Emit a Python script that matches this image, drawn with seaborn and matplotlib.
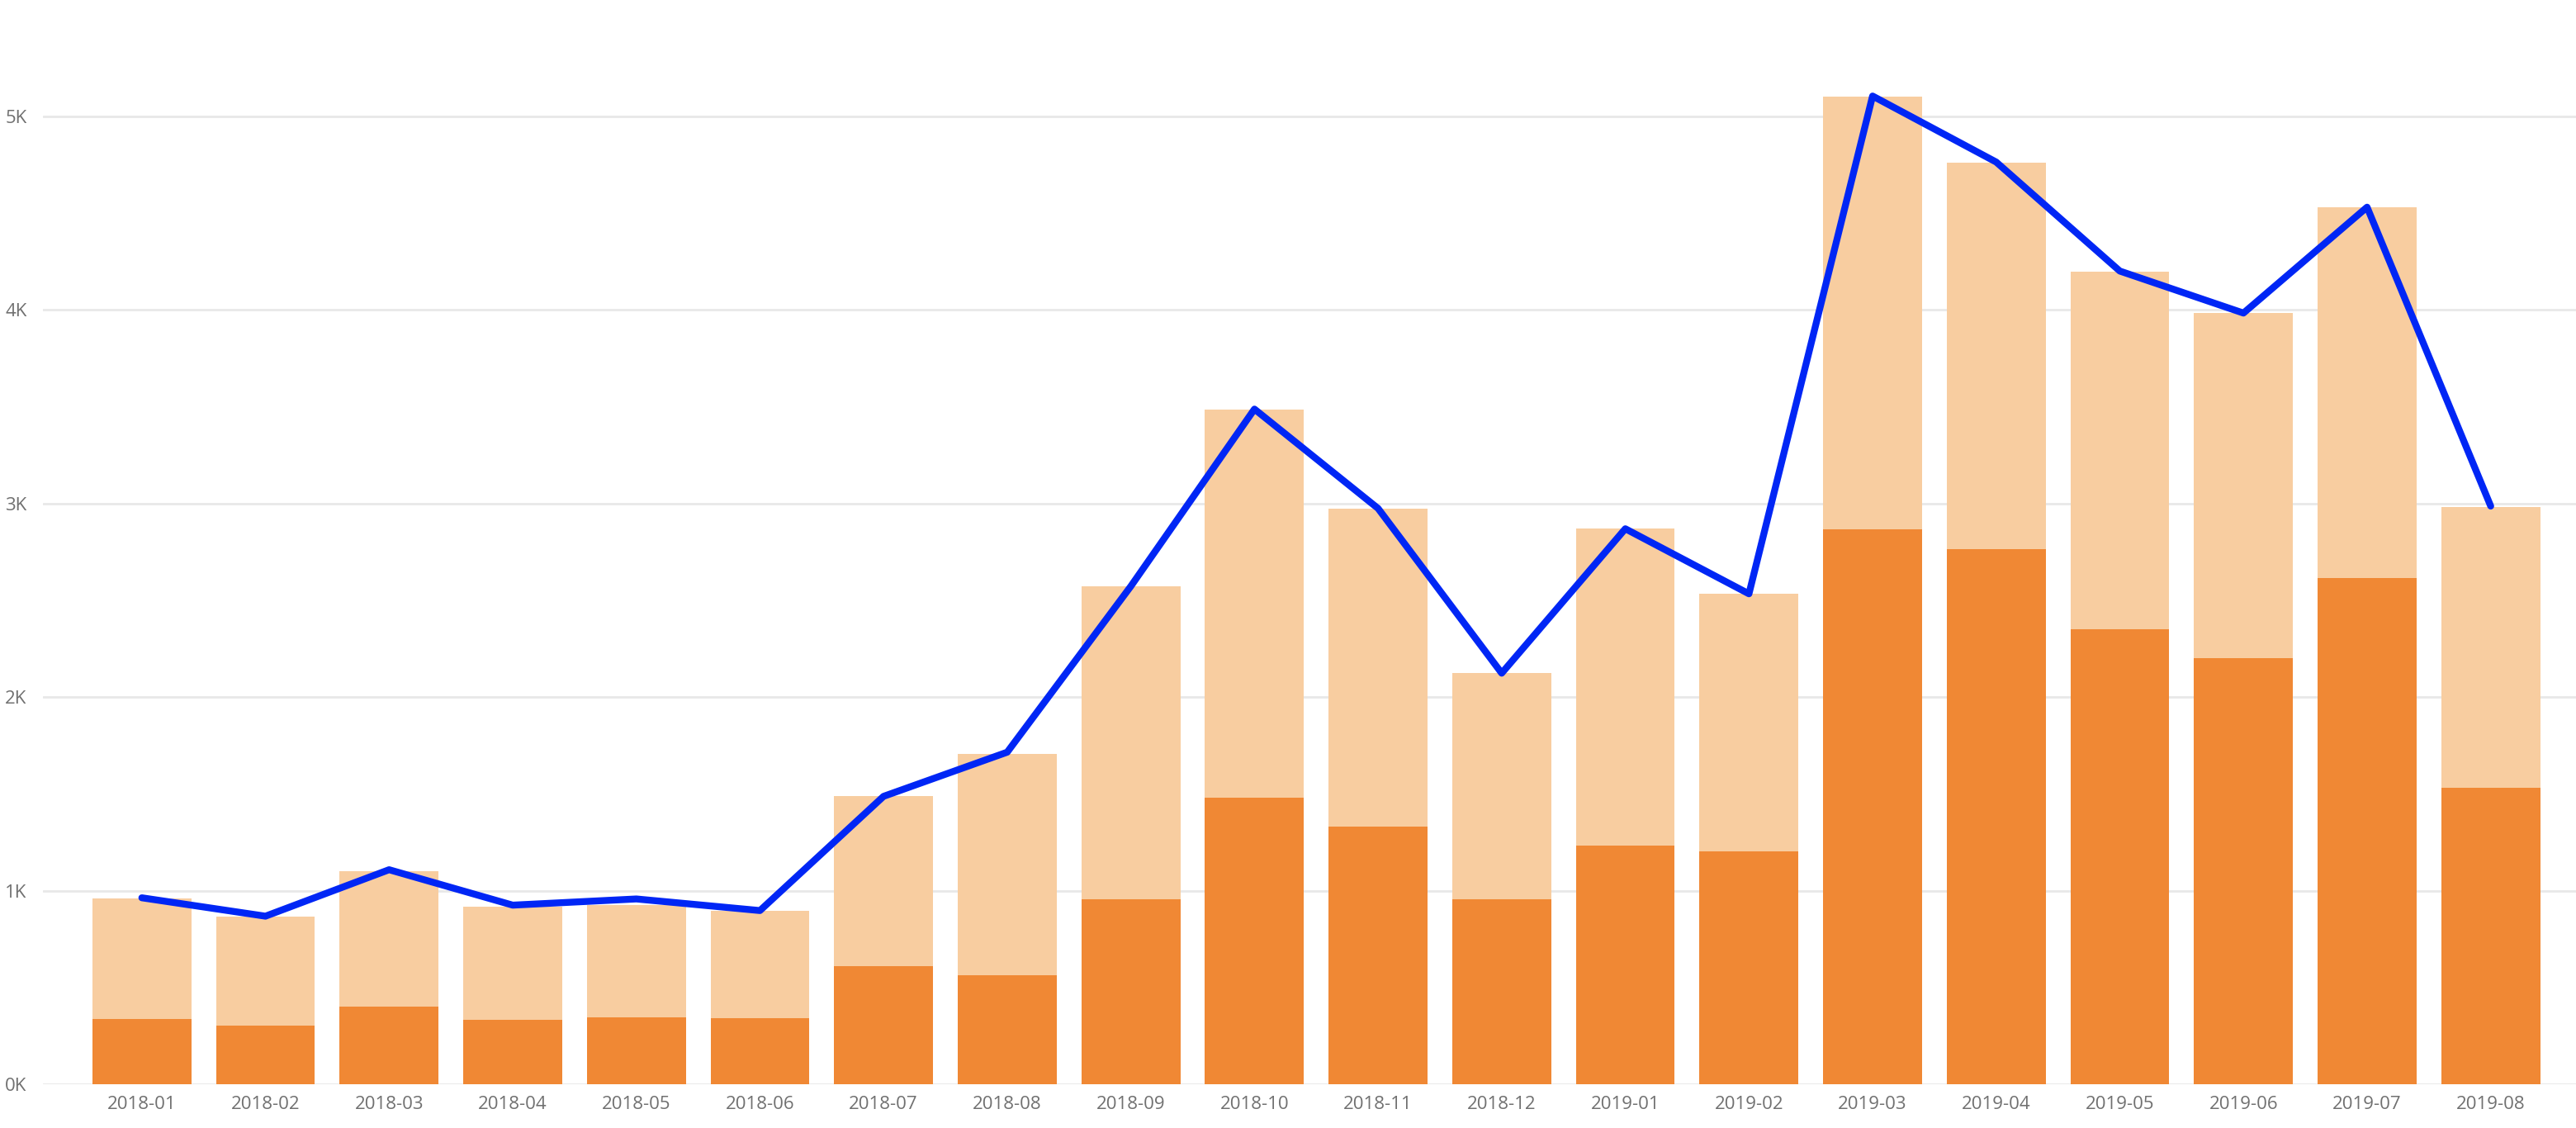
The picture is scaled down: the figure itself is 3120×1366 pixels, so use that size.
import numpy as np
import pandas as pd
import seaborn as sns
import matplotlib.pyplot as plt
from matplotlib.ticker import FuncFormatter

months = ['2018-01', '2018-02', '2018-03', '2018-04', '2018-05', '2018-06',
          '2018-07', '2018-08', '2018-09', '2018-10', '2018-11', '2018-12',
          '2019-01', '2019-02', '2019-03', '2019-04', '2019-05', '2019-06',
          '2019-07', '2019-08']

# bar totals (light part on top of the dark part)
totals = [960, 864, 1100, 919, 925, 897, 1487, 1708, 2572, 3485,
          2974, 2123, 2869, 2533, 5100, 4760, 4195, 3983, 4530, 2983]
# lower (dark orange) part of each bar
dark = [336, 303, 400, 333, 346, 342, 610, 564, 956, 1480,
        1331, 954, 1233, 1203, 2864, 2763, 2352, 2199, 2613, 1533]
# blue line
line = [963, 868, 1108, 925, 957, 897, 1487, 1715, 2572, 3487,
        2974, 2123, 2869, 2533, 5104, 4763, 4200, 3983, 4530, 2986]

y_ticks = [0, 1000, 2000, 3000, 4000, 5000]


def main():
    sns.set_style('white')
    plt.rcParams['font.family'] = ['Open Sans', 'DejaVu Sans']

    df = pd.DataFrame({'month': months, 'total': totals, 'dark': dark, 'line': line})

    fig = plt.figure(figsize=(15.6, 6.83), dpi=200)
    ax = fig.add_axes([52 / 3120, 53 / 1366, 1 - 52 / 3120, 1313 / 1366])

    sns.barplot(data=df, x='month', y='total', color='#F8CDA0', saturation=1,
                width=0.8, ax=ax, zorder=2, linewidth=0, edgecolor='none')
    sns.barplot(data=df, x='month', y='dark', color='#F08834', saturation=1,
                width=0.8, ax=ax, zorder=3, linewidth=0, edgecolor='none')
    sns.lineplot(x=np.arange(len(months)), y=df['line'], color='#0026F5',
                 linewidth=3.0, ax=ax, zorder=4,
                 solid_capstyle='round', solid_joinstyle='round')

    ax.set_xlim(-0.8, len(months) - 0.31)
    ax.set_ylim(0, 5600)
    ax.set_yticks(y_ticks)
    ax.yaxis.set_major_formatter(FuncFormatter(lambda v, p: f'{v / 1000:.0f}K'))
    ax.grid(axis='y', color='#E8E8E8', linewidth=1.0, zorder=0)
    ax.set_axisbelow(True)
    for s in ax.spines.values():
        s.set_visible(False)
    ax.tick_params(axis='both', length=0, labelsize=8, labelcolor='#707070')
    ax.tick_params(axis='x', pad=5)
    ax.tick_params(axis='y', pad=7)
    ax.set_xlabel('')
    ax.set_ylabel('')

    fig.savefig('out.png', dpi=200)


if __name__ == '__main__':
    main()
